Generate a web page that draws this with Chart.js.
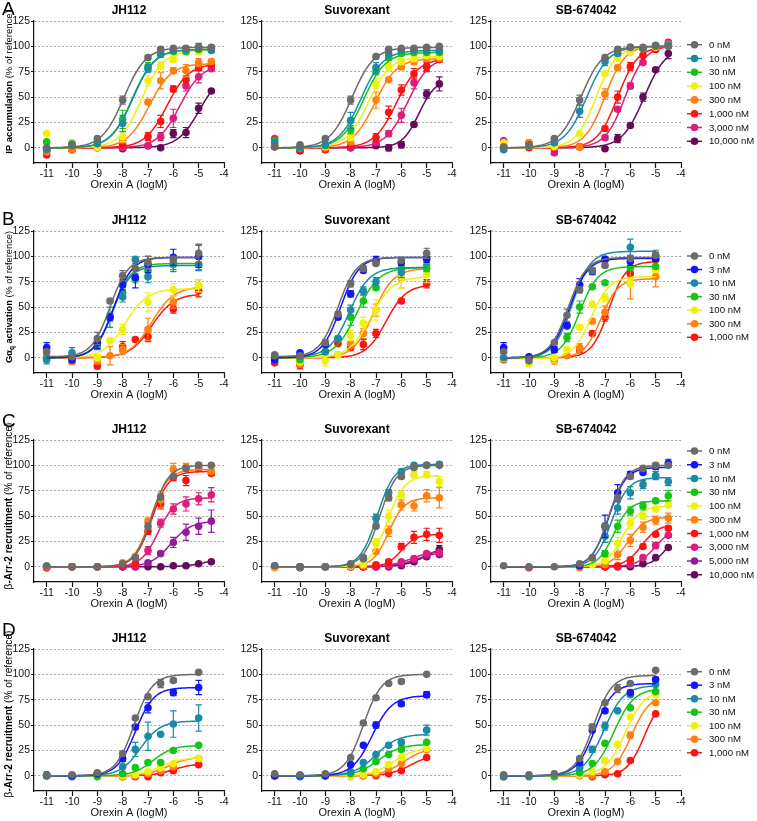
<!DOCTYPE html>
<html><head><meta charset="utf-8">
<script src="https://cdn.jsdelivr.net/npm/chart.js@4.4.0/dist/chart.umd.min.js"></script>
<style>
html,body{margin:0;padding:0;background:#fff;}
body{width:757px;height:821px;overflow:hidden;position:relative;}
canvas{position:absolute;}
</style></head><body>
<script>
// ---------------- DATA ----------------
const DRUGS = ['JH112', 'Suvorexant', 'SB-674042'];
const X_TICKS = [-11, -10, -9, -8, -7, -6, -5, -4];
const Y_TICKS = [0, 25, 50, 75, 100, 125];

// Row A: IP accumulation
const concA = ['0 nM', '10 nM', '30 nM', '100 nM', '300 nM', '1,000 nM', '3,000 nM', '10,000 nM'];
const xA = [-11, -10, -9, -8, -7, -6.5, -6, -5.5, -5, -4.5];
const ipJH112 = [
  [0, 2, 9, 47, 89, 97, 98, 98, 99, 99],
  [-2, 3, 4, 24, 78, 92, 96, 97, 99, 96],
  [6, 4, 5, 28, 80, 94, 95, 95, 97, 98],
  [14, 5, 0, 11, 66, 81, 87, 94, 95, 97],
  [-4, -2, 1, 8, 45, 66, 76, 76, 84, 85],
  [-7, -2, 1, 3, 11, 26, 58, 67, 79, 82],
  [-3, -2, 0, 0, 2, 11, 29, 61, 70, 78],
  [-1, 0, 0, -1, 2, 0, 14, 15, 39, 56]];
const ipJH112Err = [
  [1, 1, 2, 4, 2, 2, 2, 2, 2, 2],
  [1, 2, 2, 8, 4, 3, 2, 2, 4, 2],
  [1, 1, 2, 9, 4, 2, 2, 2, 2, 2],
  [1, 3, 1, 5, 5, 4, 3, 3, 3, 2],
  [1, 1, 1, 3, 2, 8, 3, 6, 4, 2],
  [1, 1, 1, 1, 4, 6, 3, 4, 3, 2],
  [1, 1, 1, 1, 1, 4, 9, 5, 6, 2],
  [1, 1, 1, 1, 1, 1, 4, 5, 5, 1]];
const ipJH112Fit = [ // [bottom, top, logEC50, hill]
  [0, 99, -7.95, 1], [0, 97, -7.6, 1], [0, 97, -7.62, 1], [0, 96, -7.25, 1],
  [0, 83, -6.95, 1], [0, 83, -6.25, 1], [0, 82, -5.75, 1], [0, 75, -4.96, 1]];

const ipSuvo = [
  [1, 3, 9, 47, 90, 97, 98, 98, 99, 100],
  [5, 0, 3, 27, 79, 93, 96, 96, 96, 96],
  [7, 1, 2, 18, 75, 89, 93, 94, 94, 94],
  [3, 0, 1, 11, 63, 80, 85, 88, 91, 90],
  [2, 0, 0, 6, 47, 67, 80, 85, 88, 88],
  [1, -2, -2, 3, 10, 35, 57, 73, 80, 87],
  [9, -1, 0, 0, 5, 14, 32, 64, 80, 87],
  [1, -3, 0, 0, 2, 0, 3, 23, 53, 63]];
const ipSuvoErr = [
  [1, 1, 2, 4, 2, 1, 1, 1, 1, 1],
  [1, 1, 2, 8, 5, 2, 2, 2, 2, 2],
  [1, 1, 1, 4, 3, 3, 2, 2, 2, 2],
  [1, 1, 1, 4, 5, 4, 3, 3, 3, 2],
  [1, 1, 1, 3, 8, 2, 3, 3, 3, 2],
  [1, 3, 2, 1, 4, 6, 5, 5, 4, 2],
  [1, 2, 1, 1, 1, 3, 7, 6, 5, 2],
  [1, 2, 1, 1, 1, 3, 3, 2, 4, 7]];
const ipSuvoFit = [
  [0, 99, -7.95, 1], [0, 96, -7.6, 1], [0, 94, -7.5, 1], [0, 90, -7.3, 1],
  [0, 88, -7.05, 1], [0, 88, -6.2, 1], [0, 90, -5.75, 1], [0, 68, -5.3, 1.3]];

const ipSB = [
  [1, 3, 9, 47, 89, 97, 99, 99, 100, 100],
  [-2, 2, 5, 36, 85, 93, 99, 98, 101, 101],
  null,
  [5, 2, 1, 14, 73, 88, 94, 98, 99, 100],
  [2, 5, 2, 1, 53, 79, 95, 98, 100, 102],
  [0, 0, 0, 1, 19, 50, 80, 91, 97, 101],
  [7, 5, -5, 1, 10, 38, 61, 84, 97, 104],
  [0, 1, 0, 1, -1, 9, 22, 50, 77, 93]];
const ipSBErr = [
  [1, 1, 1, 5, 2, 2, 1, 1, 1, 1],
  [1, 1, 1, 6, 4, 2, 1, 1, 1, 1],
  null,
  [1, 1, 1, 1, 2, 2, 2, 1, 1, 1],
  [1, 1, 1, 1, 5, 2, 2, 2, 3, 2],
  [1, 1, 1, 1, 2, 6, 4, 2, 2, 2],
  [1, 1, 2, 1, 2, 2, 3, 2, 2, 2],
  [1, 1, 1, 1, 1, 4, 2, 4, 2, 5]];
const ipSBFit = [
  [0, 100, -7.95, 1], [0, 100, -7.72, 1], null, [0, 100, -7.35, 1.1],
  [0, 101, -7.0, 1.1], [0, 100, -6.5, 1.1], [0, 101, -6.2, 1.1], [0, 100, -5.45, 1]];

// Row B: Gaq activation
const concB = ['0 nM', '3 nM', '10 nM', '30 nM', '100 nM', '300 nM', '1,000 nM'];
const xB = [-11, -10, -9, -8.5, -8, -7.5, -7, -6, -5];
const gqJH112 = [
  [6, 1, 19, 56, 81, 88, 94, 97, 103],
  [10, -2, 15, 40, 72, 79, 92, 99, 100],
  [-2, 5, 12, 40, 60, 97, 80, 93, 92],
  [0, 0, 14, 40, 64, 78, 86, 92, 92],
  [0, -2, 0, 17, 28, null, 55, 67, 71],
  [null, -3, -3, 2, 8, null, 28, 55, 71],
  [null, -3, -8, null, 11, 18, 21, 48, 66]];
const gqJH112Err = [
  [2, 2, 6, 2, 5, 5, 6, 3, 9],
  [5, 3, 6, 3, 5, 10, 8, 8, 11],
  [4, 5, 4, 10, 5, 2, 6, 8, 6],
  [3, 3, 5, 4, 5, 4, 5, 5, 5],
  [2, 3, 3, 2, 5, 0, 9, 6, 6],
  [0, 3, 3, 9, 5, 0, 11, 6, 6],
  [0, 3, 3, 0, 5, 2, 5, 4, 6]];
const gqJH112Fit = [
  [1, 99, -8.5, 1.2], [0, 99, -8.35, 1.2], [0, 91, -8.4, 1.2], [0, 93, -8.4, 1.2],
  [0, 68, -7.9, 1], [0, 70, -6.85, 1], [0, 63, -6.85, 1]];

const gqSuvo = [
  [2, 2, 15, 43, 73, 88, 93, 96, 103],
  [-2, 5, 13, 40, 63, 86, 96, 94, 98],
  [3, 2, 6, 19, 47, 66, 75, 84, 97],
  [0, -2, 6, 19, 40, 56, 69, 88, 88],
  [null, -4, -3, 3, 22, 34, 47, 80, 82],
  [null, -6, null, 3, 14, 24, 47, 79, 91],
  [-5, -7, null, 14, 10, 13, 24, 56, 73]];
const gqSuvoErr = [
  [1, 1, 3, 2, 3, 3, 2, 2, 5],
  [1, 1, 2, 2, 3, 2, 4, 3, 4],
  [1, 1, 2, 2, 5, 4, 4, 5, 5],
  [1, 1, 1, 2, 8, 6, 2, 3, 3],
  [1, 2, 5, 1, 5, 6, 10, 11, 8],
  [1, 3, 1, 1, 2, 5, 6, 10, 6],
  [1, 4, 1, 1, 2, 5, 4, 2, 4]];
const gqSuvoFit = [
  [1, 99, -8.5, 1.2], [0, 99, -8.4, 1.2], [1, 89, -8.05, 1.1], [0, 89, -7.75, 1],
  [0, 80, -7.2, 1], [0, 88, -7.1, 1.1], [0, 72, -6.6, 1.1]];

const gqSB = [
  [6, -3, 15, 42, 67, 86, 91, 98, 101],
  [10, 1, 8, 32, 72, 85, 97, 95, 98],
  [0, 0, null, 31, null, null, 97, 109, 101],
  [null, null, null, 20, 50, 70, 74, 89, 90],
  [-1, -6, 0, 8, 30, 53, 59, 74, 87],
  [null, null, -3, 2, 10, 36, 45, 74, 80],
  [-2, null, -1, null, 8, 24, 40, 83, 97]];
const gqSBErr = [
  [1, 1, 1, 6, 3, 3, 2, 2, 2],
  [5, 2, 3, 2, 6, 3, 2, 4, 3],
  [1, 1, 0, 2, 0, 0, 2, 8, 5],
  [0, 0, 0, 4, 6, 2, 2, 2, 2],
  [1, 2, 5, 2, 2, 2, 4, 4, 3],
  [0, 0, 3, 2, 4, 2, 6, 16, 10],
  [1, 0, 2, 0, 3, 2, 4, 4, 7]];
const gqSBFit = [
  [0, 99, -8.45, 1.2], [0, 98, -8.4, 1.2], [0, 105, -8.3, 1.2], [0, 90, -8.0, 1.2],
  [-1, 80, -7.55, 1.2], [0, 78, -7.15, 1.3], [0, 95, -6.85, 1.3]];

// Row C: beta-Arr-2 recruitment
const concC = ['0 nM', '3 nM', '10 nM', '30 nM', '100 nM', '300 nM', '1,000 nM', '3,000 nM', '5,000 nM', '10,000 nM'];
const xC = [-11, -10, -9, -8, -7.5, -7, -6.5, -6, -5.5, -5, -4.5];
const arrJH112 = [
  [1, 0, 0, 3, 9, 40, 69, 89, 97, 100, 100],
  null, null, null, null,
  [0, 0, 0, 4, 10, 45, 66, 96, 98, 100, 94],
  [-1, 0, 0, 1, 3, 35, 62, 88, 85, 97, 92],
  [-1, 0, 0, 0, 1, 16, 43, 57, 62, 67, 71],
  [0, 0, 0, 0, 0, 4, 13, 24, 34, 40, 45],
  [0, 0, 0, 0, 0, 0, 0, 1, 1, 3, 5]];
const arrJH112Err = [
  [1, 1, 1, 1, 2, 3, 3, 2, 2, 2, 1],
  null, null, null, null,
  [1, 1, 1, 1, 2, 3, 8, 6, 4, 3, 2],
  [1, 1, 1, 1, 2, 3, 5, 3, 5, 2, 2],
  [1, 1, 1, 1, 1, 4, 4, 5, 7, 6, 7],
  [1, 1, 1, 1, 1, 2, 2, 5, 8, 8, 11],
  [0, 0, 0, 0, 0, 0, 0, 1, 1, 1, 1]];
const arrJH112Fit = [
  [0, 100, -6.85, 1.3], null, null, null, null,
  [0, 96, -6.9, 1.3], [0, 94, -6.85, 1.3], [0, 68, -6.6, 1.3], [0, 45, -6.1, 1.1], [0, 10, -4.6, 1]];

const arrSuvo = [
  [1, 0, 0, 3, 9, 40, 68, 89, 98, 100, 100],
  null,
  [1, 0, 0, 2, 8, 48, 73, 94, 100, 100, 101],
  null,
  [0, 0, 0, 1, 2, 24, 50, 71, 91, 91, 84],
  [-1, 0, 0, 0, 1, 15, 35, 61, 60, 70, 68],
  [0, 0, 0, 0, 0, 2, 5, 20, 29, 32, 31],
  [0, 0, 0, 0, 0, 0, 1, 5, 8, 13, 14],
  [0, 0, 0, 0, 0, 0, 0, 2, 7, 11, 12],
  [0, -1, 0, 0, 0, 0, 0, 1, 5, 10, 17]];
const arrSuvoErr = [
  [1, 1, 1, 1, 2, 2, 3, 2, 2, 2, 1],
  null,
  [1, 1, 1, 1, 2, 4, 3, 2, 2, 2, 2],
  null,
  [1, 1, 1, 1, 1, 4, 6, 3, 3, 3, 5],
  [1, 1, 1, 1, 1, 2, 5, 5, 5, 6, 10],
  [0, 0, 0, 0, 0, 1, 2, 3, 6, 6, 7],
  [0, 0, 0, 0, 0, 0, 1, 1, 2, 2, 2],
  [0, 0, 0, 0, 0, 0, 0, 1, 1, 2, 2],
  [0, 0, 0, 0, 0, 0, 0, 1, 1, 2, 4]];
const arrSuvoFit = [
  [0, 100, -6.85, 1.3], null, [0, 101, -6.95, 1.3], null, [0, 90, -6.55, 1.3],
  [0, 68, -6.5, 1.4], [0, 32, -6.0, 1.5], [0, 16, -5.6, 1], [0, 15, -5.4, 1], [0, 22, -5.0, 1]];

const arrSB = [
  [1, 0, 0, 3, 9, 40, 68, 89, 97, 100, 100],
  [null, null, null, 1, null, 40, 73, 91, 93, 99, 102],
  [null, null, null, null, null, 30, 58, 73, 81, 90, 84],
  [null, null, null, null, null, 13, 40, 55, 60, 65, 70],
  [null, null, null, null, 2, 6, 23, 43, 50, 57, 61],
  [null, null, null, -1, null, 2, 12, 26, 39, 46, 48],
  [null, null, null, null, null, 0, 1, 7, 20, 32, 38],
  [null, -1, null, null, null, 0, 0, 2, 9, 21, 31],
  null,
  [null, null, null, null, null, 0, 0, 0, 3, 9, 19]];
const arrSBErr = [
  [1, 1, 1, 1, 2, 3, 3, 2, 2, 2, 1],
  [0, 0, 0, 1, 0, 11, 8, 3, 2, 3, 4],
  [0, 0, 0, 0, 0, 6, 6, 6, 4, 4, 4],
  [0, 0, 0, 0, 0, 3, 6, 4, 4, 2, 5],
  [0, 0, 0, 0, 1, 2, 6, 5, 3, 2, 2],
  [0, 0, 0, 1, 0, 1, 5, 6, 5, 4, 5],
  [0, 0, 0, 0, 0, 1, 1, 2, 2, 2, 2],
  [0, 1, 0, 0, 0, 1, 1, 1, 2, 3, 2],
  null,
  [0, 0, 0, 0, 0, 1, 1, 1, 1, 1, 1]];
const arrSBFit = [
  [0, 100, -6.85, 1.3], [0, 98, -6.85, 1.3], [0, 88, -6.75, 1.3], [0, 65, -6.65, 1.4],
  [0, 60, -6.3, 1.3], [0, 49, -6.1, 1.3], [0, 42, -5.55, 1.3], [0, 40, -5.0, 1.2], null, [0, 40, -4.5, 1.3]];

// Row D: beta-Arr-2 recruitment
const concD = ['0 nM', '3 nM', '10 nM', '30 nM', '100 nM', '300 nM', '1,000 nM'];
const xD = [-11, -10, -9, -8, -7.5, -7, -6.5, -6, -5];
const arr2JH112 = [
  [1, 1, 3, 22, 57, 78, 91, 94, 102],
  [1, 0, 2, 17, 48, 67, null, 82, 87],
  [0, -1, 2, 9, 26, 39, 41, 51, 57],
  [0, 0, -1, 2, 8, 13, 13, 25, 30],
  [-1, 0, 0, 0, 1, 4, 8, 12, 17],
  [0, 0, 0, -1, 0, 2, 5, 9, 17],
  [0, 0, 0, -1, -1, -1, 3, 5, 11]];
const arr2JH112Err = [
  [1, 1, 1, 1, 1, 1, 4, 2, 1],
  [1, 1, 1, 2, 2, 5, 0, 3, 7],
  [1, 1, 1, 5, 7, 14, 1, 13, 13],
  [1, 1, 1, 1, 1, 1, 1, 1, 1],
  [1, 1, 1, 1, 1, 1, 1, 1, 1],
  [1, 1, 1, 1, 1, 1, 1, 1, 1],
  [1, 1, 1, 1, 1, 1, 1, 1, 1]];
const arr2JH112Fit = [
  [0, 100, -7.55, 1.2], [0, 87, -7.5, 1.2], [0, 54, -7.3, 1.1], [0, 30, -6.8, 1.1],
  [0, 18, -6.5, 1], [0, 19, -6.2, 1], [0, 12, -6.0, 1.1]];

const arr2Suvo = [
  [2, 1, 2, 18, 52, 77, 91, 93, 100],
  [0, 0, 0, 11, 30, 50, null, 71, 80],
  [0, -1, 0, 4, 13, 21, 30, 33, 45],
  [0, 0, 0, 2, 7, 14, 21, 26, 33],
  [-1, 0, 0, -1, 1, 4, 11, 18, 27],
  [0, 0, 0, -1, 0, 2, 7, 12, 26],
  [0, 0, 0, 0, 0, 0, 2, 5, 18]];
const arr2SuvoErr = [
  [1, 1, 1, 1, 1, 1, 1, 2, 1],
  [0, 0, 0, 1, 1, 3, 0, 2, 3],
  [0, 0, 0, 1, 1, 1, 1, 3, 5],
  [0, 0, 0, 1, 1, 1, 1, 1, 1],
  [0, 0, 0, 1, 1, 1, 1, 1, 1],
  [0, 0, 0, 1, 1, 1, 1, 1, 1],
  [0, 0, 0, 1, 1, 1, 1, 1, 1]];
const arr2SuvoFit = [
  [0, 100, -7.5, 1.2], [0, 79, -7.15, 1.1], [0, 41, -7.0, 1], [0, 31, -6.9, 1],
  [0, 28, -6.3, 1], [0, 28, -5.9, 1], [0, 22, -5.6, 1]];

const arr2SB = [
  [1, 1, 2, 17, 48, 72, 86, 91, 104],
  [null, null, null, 13, 45, 64, null, 82, 95],
  [-1, -1, null, 8, 26, 49, 64, 80, 90],
  [null, null, -1, 3, 12, 32, null, 67, 83],
  [null, null, null, 1, 4, 15, 31, 58, 80],
  [null, null, null, 0, 0, 4, 14, 40, 72],
  [-1, null, null, null, -1, 1, 2, 15, 61]];
const arr2SBErr = [
  [1, 1, 1, 1, 3, 1, 4, 1, 1],
  [0, 0, 0, 2, 1, 2, 0, 1, 2],
  [0, 0, 0, 1, 3, 4, 1, 1, 1],
  [0, 0, 0, 1, 1, 1, 0, 1, 1],
  [0, 0, 0, 1, 1, 3, 2, 1, 1],
  [0, 0, 0, 1, 1, 1, 1, 3, 1],
  [0, 0, 0, 1, 1, 1, 1, 1, 1]];
const arr2SBFit = [
  [0, 99, -7.45, 1.2], [0, 91, -7.4, 1.2], [0, 89, -7.05, 1.1], [0, 86, -6.65, 1.1],
  [0, 85, -6.2, 1.1], [0, 80, -5.95, 1.2], [0, 78, -5.45, 1.3]];

// ---------------- STYLE / LAYOUT ----------------
const COLOR_OF = {
  '0 nM': '#6b6b6b', '3 nM': '#1414ff', '10 nM': '#1b8aa5', '30 nM': '#16c416',
  '100 nM': '#f0f00c', '300 nM': '#ff800e', '1,000 nM': '#ff1212', '3,000 nM': '#de1c7c',
  '5,000 nM': '#951a9c', '10,000 nM': '#650a58'
};
const FONT = '"Liberation Sans", Arial, Helvetica, sans-serif';
const AX = [34, 262, 491];          // x of y-axis line for each column
const TOPS = [21, 231, 440, 649];   // y of plot top (125) for each row
const PW = 190, PH = 142, TITLE_H = 30, EXTRA_T = 30, XH = 31, YW = 34;
const LETTERS = ['A', 'B', 'C', 'D'];
const LETTER_BASE = [15, 225, 427, 636];
const YLAB_CENTER = [82, 297, 506, 714];
const YLAB_SIZE = [9.5, 9.3, 10.1, 10.1];
const YLABELS = [
  [['IP accumulation', 'bold'], [' (% of reference)', 'normal']],
  [['G\u03B1', 'bold'], ['q', 'bold', 'sub'], [' activation', 'bold'], [' (% of reference)', 'normal']],
  [['\u03B2', 'normal'], ['-Arr-2 recruitment', 'bold'], [' (% of reference)', 'normal']],
  [['\u03B2', 'normal'], ['-Arr-2 recruitment', 'bold'], [' (% of reference)', 'normal']]
];
const LEG_START = [44.7, 256, 451, 671.7];
const LEG_STEP = [13.8, 13.55, 13.75, 13.5];

const ROWS = [
  {conc: concA, x: xA, panels: [[ipJH112, ipJH112Err, ipJH112Fit], [ipSuvo, ipSuvoErr, ipSuvoFit], [ipSB, ipSBErr, ipSBFit]]},
  {conc: concB, x: xB, panels: [[gqJH112, gqJH112Err, gqJH112Fit], [gqSuvo, gqSuvoErr, gqSuvoFit], [gqSB, gqSBErr, gqSBFit]]},
  {conc: concC, x: xC, panels: [[arrJH112, arrJH112Err, arrJH112Fit], [arrSuvo, arrSuvoErr, arrSuvoFit], [arrSB, arrSBErr, arrSBFit]]},
  {conc: concD, x: xD, panels: [[arr2JH112, arr2JH112Err, arr2JH112Fit], [arr2Suvo, arr2SuvoErr, arr2SuvoFit], [arr2SB, arr2SBErr, arr2SBFit]]}
];

function logistic(p, x) { return p[0] + (p[1] - p[0]) / (1 + Math.pow(10, (p[2] - x) * p[3])); }

const errorBars = {
  id: 'errorBars',
  beforeDatasetDraw(chart, args) {
    const ds = chart.data.datasets[args.index];
    if (!ds.isPoints) return;
    const ctx = chart.ctx, xs = chart.scales.x, ys = chart.scales.y;
    ctx.save();
    ctx.strokeStyle = ds.backgroundColor;
    ctx.lineWidth = 1.2;
    ds.data.forEach(pt => {
      if (!pt.e) return;
      const px = xs.getPixelForValue(pt.x);
      const y1 = ys.getPixelForValue(pt.y + pt.e), y2 = ys.getPixelForValue(pt.y - pt.e);
      ctx.beginPath();
      ctx.moveTo(px, y1); ctx.lineTo(px, y2);
      ctx.moveTo(px - 3.2, y1); ctx.lineTo(px + 3.2, y1);
      ctx.moveTo(px - 3.2, y2); ctx.lineTo(px + 3.2, y2);
      ctx.stroke();
    });
    ctx.restore();
  }
};

const decor = {
  id: 'decor',
  afterDraw(chart) {
    const o = chart.options.plugins.decor;
    const ctx = chart.ctx;
    const r = o.row;
    ctx.save();
    if (o.col === 0) {
      // y axis label with mixed weights
      const segs = YLABELS[r], fs = YLAB_SIZE[r];
      const fontFor = s => (s[1] === 'bold' ? 'bold ' : '') + (s[2] === 'sub' ? fs * 0.7 : fs) + 'px ' + FONT;
      let total = 0;
      segs.forEach(s => { ctx.font = fontFor(s); total += ctx.measureText(s[0]).width; });
      ctx.save();
      ctx.fillStyle = '#000';
      ctx.translate(9 - o.left, YLAB_CENTER[r] - o.top);
      ctx.rotate(-Math.PI / 2);
      ctx.textBaseline = 'middle';
      ctx.textAlign = 'left';
      let cx = -total / 2;
      segs.forEach(s => {
        ctx.font = fontFor(s);
        ctx.fillText(s[0], cx, s[2] === 'sub' ? fs * 0.3 : 0);
        cx += ctx.measureText(s[0]).width;
      });
      ctx.restore();
      // panel letter
      ctx.fillStyle = '#000';
      ctx.font = '19px ' + FONT;
      ctx.textBaseline = 'alphabetic';
      ctx.textAlign = 'left';
      ctx.fillText(LETTERS[r], 2 - o.left, LETTER_BASE[r] - o.top);
    } else if (o.col === 2) {
      const conc = ROWS[r].conc;
      ctx.font = '9.6px ' + FONT;
      ctx.textBaseline = 'middle';
      ctx.textAlign = 'left';
      conc.forEach((c, i) => {
        const y = LEG_START[r] + i * LEG_STEP[r] - o.top;
        const col = COLOR_OF[c];
        ctx.strokeStyle = col; ctx.lineWidth = 1.5;
        ctx.beginPath(); ctx.moveTo(687 - o.left, y); ctx.lineTo(702 - o.left, y); ctx.stroke();
        ctx.fillStyle = col;
        ctx.beginPath(); ctx.arc(694.5 - o.left, y, 3.8, 0, Math.PI * 2); ctx.fill();
        ctx.fillStyle = '#111';
        ctx.fillText(c, 709 - o.left, y + 0.5);
      });
    }
    ctx.restore();
  }
};

function makePanel(r, c) {
  const row = ROWS[r];
  const [vals, errs, fits] = row.panels[c];
  const left = AX[c] - YW;
  const top = TOPS[r] - TITLE_H - EXTRA_T;
  const width = c === 2 ? 757 - left : YW + PW + 14;
  const height = EXTRA_T + TITLE_H + PH + XH;
  const cv = document.createElement('canvas');
  cv.width = width; cv.height = height;
  cv.style.left = left + 'px'; cv.style.top = top + 'px';
  cv.style.width = width + 'px'; cv.style.height = height + 'px';
  document.body.appendChild(cv);

  const xmin = Math.min(...row.x), xmax = Math.max(...row.x);
  const datasets = [];
  row.conc.forEach((conc, i) => {
    const col = COLOR_OF[conc];
    const v = vals[i];
    if (v) {
      const pts = [];
      v.forEach((y, j) => { if (y !== null) pts.push({x: row.x[j], y: y, e: errs[i] ? errs[i][j] : 0}); });
      datasets.push({type: 'scatter', isPoints: true, data: pts, backgroundColor: col, borderColor: col,
        pointRadius: 3.8, pointBorderWidth: 0, showLine: false, order: 2 * i, clip: false});
    }
    const f = fits[i];
    if (f) {
      const curve = [];
      const n = Math.round((xmax - xmin) / 0.05);
      for (let k = 0; k <= n; k++) { const x = xmin + k * 0.05; curve.push({x: x, y: logistic(f, x)}); }
      datasets.push({type: 'line', data: curve, borderColor: col, backgroundColor: col, borderWidth: 1.5,
        pointRadius: 0, fill: false, tension: 0, order: 2 * i + 1});
    }
  });

  new Chart(cv, {
    type: 'scatter',
    data: {datasets},
    options: {
      responsive: false, animation: false, devicePixelRatio: 1, events: [],
      layout: {padding: {left: 0, right: width - YW - PW, top: EXTRA_T, bottom: 0}},
      plugins: {
        legend: {display: false}, tooltip: {enabled: false},
        title: {display: true, text: DRUGS[c], fullSize: false, color: '#000',
          font: {family: FONT, size: 12, weight: 'bold', lineHeight: 1.2}, padding: {top: 12.5, bottom: 3.1}},
        decor: {row: r, col: c, left: left, top: top}
      },
      scales: {
        x: {
          type: 'linear', min: -11.5, max: -4,
          afterBuildTicks: s => { s.ticks = X_TICKS.map(v => ({value: v})); },
          afterFit: s => { s.height = XH; s.paddingLeft = 0; s.paddingRight = 0; },
          grid: {drawOnChartArea: false, drawTicks: true, tickLength: 5, tickColor: '#111', tickWidth: 1.2},
          border: {display: true, color: '#111', width: 1.2},
          ticks: {font: {family: FONT, size: 10.5}, color: '#111', padding: 0, maxRotation: 0, autoSkip: false},
          title: {display: true, text: 'Orexin A (logM)', color: '#111', font: {family: FONT, size: 11}, padding: {top: 0, bottom: 2}}
        },
        y: {
          type: 'linear', min: -15, max: 125,
          afterBuildTicks: s => { s.ticks = Y_TICKS.map(v => ({value: v})); },
          afterFit: s => { s.width = YW; s.paddingTop = 0; s.paddingBottom = 0; },
          grid: {color: '#a4a4a4', lineWidth: 1, drawTicks: true, tickLength: 3, tickColor: '#111', tickWidth: 1.2, tickBorderDash: []},
          border: {display: true, color: '#111', width: 1.2, dash: [2, 2]},
          ticks: {font: {family: FONT, size: 10.5}, color: '#111', padding: 1}
        }
      }
    },
    plugins: [errorBars, decor]
  });
}

for (let r = 0; r < 4; r++) for (let c = 0; c < 3; c++) makePanel(r, c);
</script>
</body></html>
